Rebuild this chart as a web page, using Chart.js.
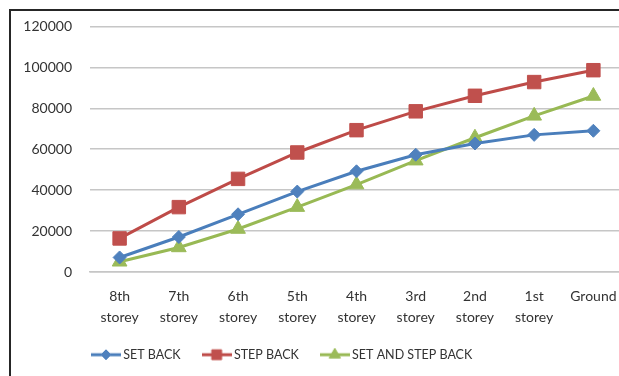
<!DOCTYPE html>
<html>
<head>
<meta charset="utf-8">
<script src="https://cdn.jsdelivr.net/npm/chart.js@4.4.1/dist/chart.umd.min.js"></script>
<style>
  html, body { margin: 0; padding: 0; background: #fff; overflow: hidden; width: 619px; height: 376px; }
  #wrap { position: relative; width: 619px; height: 376px; overflow: hidden; }
  #c { position: absolute; left: 0; top: 0; }
  #frame { position: absolute; left: 9px; top: 9px; width: 700px; height: 400px;
           border-left: 2px solid #262626; border-top: 2px solid #262626; }
</style>
</head>
<body>
<div id="wrap">
  <canvas id="c" width="640" height="376"></canvas>
  <div id="frame"></div>
</div>
<script>
// Floor levels along the building height
const categories = [
  ['8th', 'storey'], ['7th', 'storey'], ['6th', 'storey'], ['5th', 'storey'],
  ['4th', 'storey'], ['3rd', 'storey'], ['2nd', 'storey'], ['1st', 'storey'], ['Ground']
];
const seriesNames = ['SET BACK', 'STEP BACK', 'SET AND STEP BACK'];
const setBack        = [7100, 17100, 28200, 39300, 49200, 57300, 62800, 67000, 69000];
const stepBack       = [16400, 31700, 45500, 58400, 69300, 78500, 86100, 92800, 98600];
const setAndStepBack = [5000, 12000, 21000, 31700, 42700, 54400, 65600, 76300, 86000];
const yMin = 0, yMax = 120000, yStep = 20000;

const FONT = "Lato, 'Open Sans', 'Liberation Sans', sans-serif";
const TEXT = '#333333';

const styles = [
  { line: '#4A7EBB', fill: '#4F81BD', point: 'rectRot', r: 6.5, lr: 5 },
  { line: '#BE4B48', fill: '#C0504D', point: 'rect', r: 9.5, lr: 7 },
  { line: '#98B954', fill: '#9BBB59', point: 'triangle', r: 8.5, lr: 6.5 }
];

// Legend symbol: a short line segment with the series marker in the middle
function legendIcon(s) {
  const cv = document.createElement('canvas');
  cv.width = 30; cv.height = 14;
  const ctx = cv.getContext('2d');
  ctx.strokeStyle = s.line; ctx.lineWidth = 3;
  ctx.beginPath(); ctx.moveTo(0, 7); ctx.lineTo(30, 7); ctx.stroke();
  ctx.fillStyle = s.fill; ctx.strokeStyle = s.fill; ctx.lineWidth = 1;
  Chart.helpers.drawPoint(ctx, { pointStyle: s.point, radius: s.lr, rotation: 0, borderWidth: 1 }, 15, 7);
  return cv;
}

const dataSets = [setBack, stepBack, setAndStepBack].map((vals, i) => ({
  label: seriesNames[i],
  data: vals,
  borderColor: styles[i].line,
  backgroundColor: styles[i].fill,
  borderWidth: 3,
  tension: 0,
  pointStyle: styles[i].point,
  pointRadius: styles[i].r,
  pointHoverRadius: styles[i].r,
  pointBackgroundColor: styles[i].fill,
  pointBorderColor: styles[i].fill,
  pointBorderWidth: 1
}));

const legendPlace = {
  id: 'legendPlace',
  afterLayout(chart) {
    const lg = chart.legend;
    if (!lg) return;
    lg.left = 70;
    lg.top = 323.5;
  }
};

new Chart(document.getElementById('c'), {
  type: 'line',
  data: { labels: categories, datasets: dataSets },
  plugins: [legendPlace],
  options: {
    responsive: false,
    animation: false,
    layout: { padding: { left: 10, right: 17, top: 25, bottom: 0 } },
    scales: {
      x: {
        offset: true,
        grid: { display: false, drawTicks: false },
        border: { display: true, color: '#c6c6c6', width: 1.5 },
        ticks: {
          color: TEXT, padding: 13.5, maxRotation: 0, autoSkip: false,
          font: { family: FONT, size: 14, lineHeight: 1.5 }
        },
        afterFit(s) { s.height = 64; }
      },
      y: {
        min: yMin, max: yMax,
        grid: { color: '#c6c6c6', lineWidth: 1.5, drawTicks: false },
        border: { display: false },
        ticks: {
          stepSize: yStep, color: TEXT, padding: 18,
          font: { family: FONT, size: 14 },
          callback: v => String(v)
        },
        afterFit(s) { s.width = 80; }
      }
    },
    plugins: {
      tooltip: { enabled: false },
      legend: {
        position: 'bottom',
        align: 'start',
        maxHeight: 40,
        labels: {
          usePointStyle: true,
          pointStyleWidth: 22,
          padding: 25,
          color: TEXT,
          font: { family: FONT, size: 12.5 },
          generateLabels(chart) {
            return Chart.defaults.plugins.legend.labels.generateLabels(chart)
              .map((item, i) => Object.assign(item, { pointStyle: legendIcon(styles[i]) }));
          }
        }
      }
    }
  }
});
</script>
</body>
</html>
